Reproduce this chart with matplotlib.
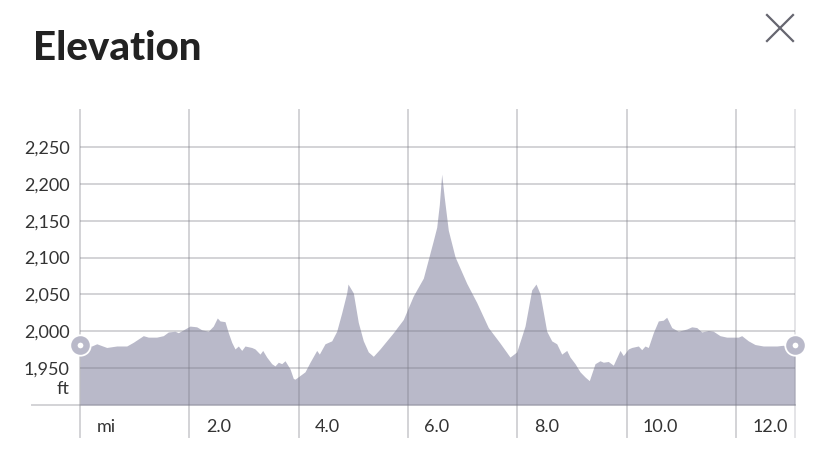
import matplotlib.pyplot as plt
from matplotlib import transforms

# distance along the trail (mi) and elevation (ft)
distance_mi = [
    0.0, 0.214, 0.306, 0.489, 0.672, 0.855, 0.975, 1.158, 1.250, 1.403,
    1.524, 1.616, 1.738, 1.799, 2.013, 2.135, 2.227, 2.348, 2.439, 2.512,
    2.562, 2.653, 2.714, 2.776, 2.836, 2.897, 2.959, 3.019, 3.142, 3.202,
    3.294, 3.343, 3.416, 3.508, 3.568, 3.629, 3.691, 3.751, 3.843, 3.903,
    3.934, 4.026, 4.117, 4.209, 4.331, 4.379, 4.483, 4.606, 4.697, 4.789,
    4.880, 4.904, 5.001, 5.092, 5.184, 5.275, 5.367, 5.489, 5.733, 5.916,
    6.099, 6.282, 6.465, 6.527, 6.575, 6.618, 6.666, 6.739, 6.862, 7.076,
    7.259, 7.471, 7.685, 7.868, 7.991, 8.143, 8.265, 8.344, 8.417, 8.540,
    8.631, 8.723, 8.814, 8.906, 8.966, 9.058, 9.149, 9.241, 9.319, 9.424,
    9.515, 9.576, 9.667, 9.758, 9.881, 9.941, 10.033, 10.095, 10.216, 10.278,
    10.338, 10.399, 10.490, 10.582, 10.673, 10.735, 10.827, 10.948, 11.101, 11.193,
    11.285, 11.376, 11.497, 11.588, 11.711, 11.833, 12.045, 12.108, 12.229, 12.351,
    12.503, 12.749, 12.871, 12.992, 13.083,
]
elevation_ft = [
    1981, 1980, 1983, 1978, 1980, 1980, 1985, 1994, 1992, 1992,
    1994, 1999, 2000, 1998, 2007, 2006, 2002, 2000, 2007, 2018,
    2014, 2013, 1998, 1985, 1976, 1980, 1974, 1980, 1978, 1976,
    1969, 1974, 1965, 1956, 1953, 1958, 1956, 1960, 1949, 1936,
    1935, 1940, 1945, 1958, 1974, 1969, 1983, 1987, 2000, 2025,
    2052, 2064, 2052, 2012, 1987, 1972, 1966, 1976, 1998, 2016,
    2048, 2072, 2123, 2141, 2172, 2213, 2181, 2137, 2101, 2065,
    2039, 2005, 1984, 1965, 1972, 2007, 2056, 2064, 2051, 2000,
    1987, 1983, 1969, 1974, 1965, 1956, 1945, 1938, 1933, 1956,
    1960, 1958, 1959, 1954, 1974, 1967, 1976, 1978, 1980, 1975,
    1980, 1978, 1998, 2014, 2015, 2019, 2005, 2000, 2003, 2006,
    2005, 1999, 2001, 2000, 1994, 1992, 1992, 1994, 1987, 1982,
    1980, 1980, 1981, 1976, 1981,
]
y_ticks = [1950, 2000, 2050, 2100, 2150, 2200, 2250]
x_ticks = [0, 2, 4, 6, 8, 10, 12]
x_labels = ["mi", "2.0", "4.0", "6.0", "8.0", "10.0", "12.0"]

fill_color = "#b9b9c9"
grid_color = "#7a7a85"
text_color = "#333333"

plt.rcParams["font.family"] = ["Lato", "DejaVu Sans"]

fig = plt.figure(figsize=(8.24, 4.54), dpi=100)
ax = fig.add_axes([80 / 824, 49 / 454, 715 / 824, 295 / 454])

x_max = distance_mi[-1]
ax.set_xlim(0, x_max)
ax.set_ylim(1900, 2300)

ax.fill_between(distance_mi, elevation_ft, 1900, color=fill_color, lw=0, zorder=1)

# grid, drawn over the fill
for yv in y_ticks:
    ax.axhline(yv, color=grid_color, alpha=0.33, lw=1.4, zorder=2)
xt = ax.get_xaxis_transform()
for xv in x_ticks + [x_max]:
    ax.plot([xv, xv], [-0.108, 1], transform=xt, color=grid_color,
            alpha=0.33 if xv != x_max else 0.2, lw=1.4, zorder=2, clip_on=False)
ax.plot([-0.067, 1], [0, 0], transform=ax.transAxes, color=grid_color,
        alpha=0.33, lw=1.4, zorder=2, clip_on=False)

# start / end markers
ends_x = [distance_mi[0], distance_mi[-1]]
ends_y = [elevation_ft[0], elevation_ft[-1]]
ax.plot(ends_x, ends_y, "o", ms=16, color="white", mew=0, zorder=4, clip_on=False)
ax.plot(ends_x, ends_y, "o", ms=8.8, mfc="white", mec=fill_color, mew=4.6,
        zorder=5, clip_on=False)

for s in ax.spines.values():
    s.set_visible(False)
ax.set_xticks([])
ax.set_yticks(y_ticks)
ax.set_yticklabels([f"{v:,}" for v in y_ticks], fontsize=13, color=text_color)
ax.tick_params(axis="y", length=0, pad=7.5)

ytr = transforms.blended_transform_factory(ax.transAxes, ax.transData)
ax.text(-0.0145, 1922, "ft", transform=ytr, ha="right", va="center",
        fontsize=13, color=text_color)

lab_tr = transforms.offset_copy(xt, fig=fig, x=16.5, y=0, units="dots")
for xv, lab in zip(x_ticks, x_labels):
    ax.text(xv, -0.075, lab, transform=lab_tr, ha="left", va="center",
            fontsize=13, color=text_color)

fig.text(33 / 824, 1 - 49 / 454, "Elevation", ha="left", va="center",
         fontsize=29, fontweight="black", color="#222222")

# close button
cx, cy, r = 780 / 824, 1 - 28 / 454, 13
fig.add_artist(plt.Line2D([cx - r / 824, cx + r / 824], [cy + r / 454, cy - r / 454],
                          color="#666670", lw=1.6))
fig.add_artist(plt.Line2D([cx - r / 824, cx + r / 824], [cy - r / 454, cy + r / 454],
                          color="#666670", lw=1.6))

fig.savefig("out.png", dpi=100)
